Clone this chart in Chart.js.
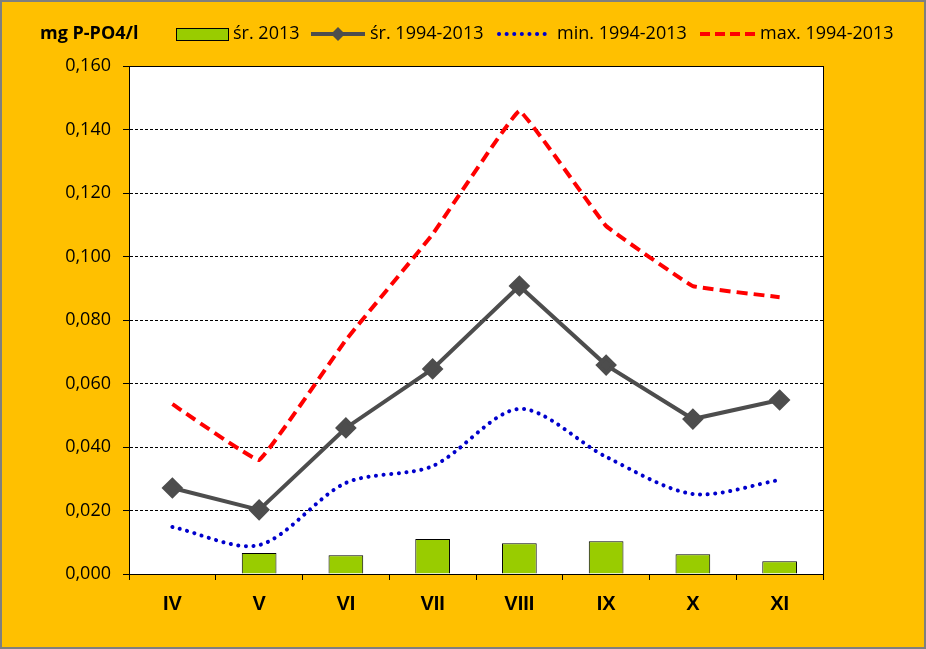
<!DOCTYPE html>
<html>
<head>
<meta charset="utf-8">
<script src="https://cdn.jsdelivr.net/npm/chart.js@4"></script>
<style>
  html, body { margin: 0; padding: 0; }
  #wrap { width: 926px; height: 649px; box-sizing: border-box; border: 2px solid #7f7f7f; background: #FFC000; position: relative; }
  #chart { position: absolute; left: -2px; top: -2px; }
</style>
</head>
<body>
<div id="wrap"><canvas id="chart" width="926" height="649"></canvas></div>
<script>
// months
const months = ['IV', 'V', 'VI', 'VII', 'VIII', 'IX', 'X', 'XI'];
// mean 2013 (bars)
const avg2013 = [null, 0.0066, 0.0059, 0.0110, 0.0097, 0.0103, 0.0062, 0.0040];
// mean 1994-2013
const avgLong = [0.0271, 0.0202, 0.0460, 0.0646, 0.0907, 0.0658, 0.0488, 0.0548];
// min 1994-2013
const minLong = [0.0148, 0.0091, 0.0287, 0.0340, 0.0520, 0.0369, 0.0252, 0.0296];
// max 1994-2013
const maxLong = [0.0535, 0.0359, 0.0737, 0.1070, 0.1458, 0.1096, 0.0907, 0.0872];

const yTicks = [0, 0.02, 0.04, 0.06, 0.08, 0.10, 0.12, 0.14, 0.16];
const unitLabel = 'mg P-PO4/l';
const legendNames = ['śr. 2013', 'śr. 1994-2013', 'min. 1994-2013', 'max. 1994-2013'];

const textFont = "'Open Sans', sans-serif";

// white plot area with black frame
const plotFrame = {
  id: 'plotFrame',
  beforeDraw(chart) {
    const a = chart.chartArea, c = chart.ctx;
    c.save();
    c.fillStyle = '#fff';
    c.fillRect(a.left, a.top, a.right - a.left, a.bottom - a.top);
    c.restore();
  },
  afterDraw(chart) {
    const a = chart.chartArea, c = chart.ctx;
    c.save();
    c.strokeStyle = '#000';
    c.lineWidth = 1;
    c.strokeRect(a.left + 0.5, a.top + 0.5, a.right - a.left, a.bottom - a.top);
    c.restore();
  }
};

// unit label + legend across the top
const topLegend = {
  id: 'topLegend',
  afterDraw(chart) {
    const c = chart.ctx;
    const y = 34;
    c.save();
    c.textBaseline = 'middle';
    c.fillStyle = '#000';
    c.font = "bold 18px " + textFont;
    c.fillText(unitLabel, 40, y);

    c.font = "18px " + textFont;
    // bar swatch
    c.fillStyle = '#99CC00';
    c.fillRect(176, 28, 52, 12);
    c.strokeStyle = '#000';
    c.lineWidth = 1;
    c.strokeRect(176.5, 28.5, 52, 12);
    c.fillStyle = '#000';
    c.fillText(legendNames[0], 233, y);

    // grey line with diamond
    c.strokeStyle = '#4D4D4D';
    c.lineWidth = 4;
    c.beginPath(); c.moveTo(311, y); c.lineTo(365, y); c.stroke();
    c.fillStyle = '#4D4D4D';
    c.beginPath();
    c.moveTo(338, y - 7); c.lineTo(345, y); c.lineTo(338, y + 7); c.lineTo(331, y);
    c.closePath(); c.fill();
    c.fillStyle = '#000';
    c.fillText(legendNames[1], 370, y);

    // blue dotted
    c.strokeStyle = '#0000CC';
    c.lineWidth = 4;
    c.lineCap = 'round';
    c.setLineDash([0.1, 7.5]);
    c.beginPath(); c.moveTo(499, y); c.lineTo(550, y); c.stroke();
    c.fillText(legendNames[2], 557, y);

    // red dashed
    c.strokeStyle = '#FF0000';
    c.lineCap = 'butt';
    c.setLineDash([10, 5]);
    c.beginPath(); c.moveTo(700, y); c.lineTo(755, y); c.stroke();
    c.setLineDash([]);
    c.fillText(legendNames[3], 760, y);
    c.restore();
  }
};

new Chart(document.getElementById('chart'), {
  type: 'bar',
  data: {
    labels: months,
    datasets: [
      {
        type: 'line', label: legendNames[1], data: avgLong, order: 1,
        borderColor: '#4D4D4D', backgroundColor: '#4D4D4D', borderWidth: 4,
        pointStyle: 'rectRot', pointRadius: 8, tension: 0
      },
      {
        type: 'line', label: legendNames[2], data: minLong, order: 2,
        borderColor: '#0000CC', borderWidth: 4, borderDash: [0.1, 7.5], borderCapStyle: 'round',
        pointRadius: 0, tension: 0.3
      },
      {
        type: 'line', label: legendNames[3], data: maxLong, order: 3,
        borderColor: '#FF0000', borderWidth: 4, borderDash: [11, 6],
        pointRadius: 0, tension: 0.06
      },
      {
        label: legendNames[0], data: avg2013, order: 4,
        backgroundColor: '#99CC00', borderColor: '#000', borderWidth: 1,
        barPercentage: 0.4, categoryPercentage: 1
      }
    ]
  },
  options: {
    responsive: false,
    animation: false,
    layout: { padding: { left: 0, top: 66, right: 103, bottom: 0 } },
    plugins: { legend: { display: false }, tooltip: { enabled: false } },
    scales: {
      x: {
        afterFit(s) { s.height = 75; },
        border: { color: '#000', width: 1 },
        grid: { offset: true, drawOnChartArea: false, color: '#000', tickLength: 6 },
        ticks: { color: '#000', padding: 12, font: { family: "'Liberation Sans', Arial, sans-serif", size: 20, weight: 'bold' } }
      },
      y: {
        min: 0, max: 0.16,
        afterFit(s) { s.width = 129; },
        afterBuildTicks(s) { s.ticks = yTicks.map(v => ({ value: v })); },
        border: { color: '#000', width: 1, dash: [3, 2] },
        grid: { color: '#000', lineWidth: 1, tickLength: 6, tickBorderDash: [], tickColor: '#000' },
        ticks: {
          color: '#000', padding: 12,
          font: { family: textFont, size: 18 },
          callback: v => v.toFixed(3).replace('.', ',')
        }
      }
    }
  },
  plugins: [plotFrame, topLegend]
});
</script>
</body>
</html>
